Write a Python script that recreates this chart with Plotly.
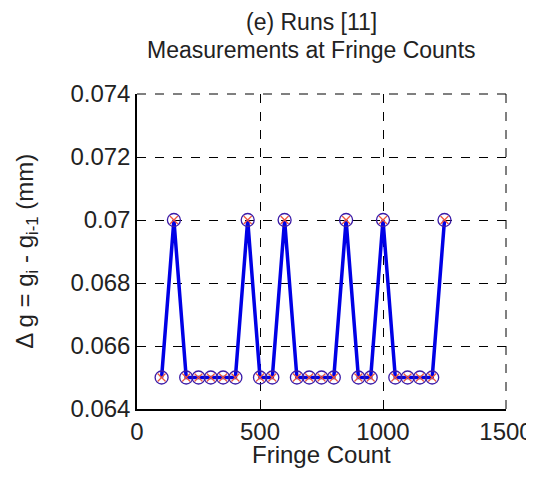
import plotly.graph_objects as go

fringe_count = [100, 150, 200, 250, 300, 350, 400, 450, 500, 550, 600,
                650, 700, 750, 800, 850, 900, 950, 1000, 1050, 1100, 1150, 1200, 1250]
delta_g = [0.065, 0.070, 0.065, 0.065, 0.065, 0.065, 0.065, 0.070, 0.065, 0.065, 0.070,
           0.065, 0.065, 0.065, 0.065, 0.070, 0.065, 0.065, 0.070, 0.065, 0.065, 0.065, 0.065, 0.070]

x_ticks = [0, 500, 1000, 1500]
y_ticks = [0.064, 0.066, 0.068, 0.070, 0.072, 0.074]
y_tick_text = ["0.064", "0.066", "0.068", "0.07", "0.072", "0.074"]

FONT = "Liberation Sans, Arial, sans-serif"
FS = 24
TXT = "#222"

fig = go.Figure()
fig.add_trace(go.Scatter(
    x=fringe_count, y=delta_g, mode="lines",
    line=dict(color="#0000e6", width=3.5),
    showlegend=False, hoverinfo="skip"))
fig.add_trace(go.Scatter(
    x=fringe_count, y=delta_g, mode="markers",
    marker=dict(symbol="x-thin-open", size=8, line=dict(color="#e03060", width=1.2)),
    showlegend=False))
fig.add_trace(go.Scatter(
    x=fringe_count, y=delta_g, mode="markers",
    marker=dict(symbol="circle-open", size=13, color="#3a1aa8", line=dict(color="#3a1aa8", width=1.3)),
    showlegend=False))

axis_common = dict(
    showline=True, linecolor="black", linewidth=1.5,
    ticks="inside", ticklen=5, tickcolor="black",
    showgrid=True, gridcolor="black", griddash="dash", gridwidth=1,
    zeroline=False, mirror=False, automargin=False,
    tickfont=dict(family=FONT, size=FS, color=TXT),
)

fig.update_xaxes(range=[0, 1500], tickvals=x_ticks, **axis_common)
fig.update_yaxes(range=[0.064, 0.074], tickvals=y_ticks, ticktext=y_tick_text, **axis_common)

# dashed top and right border lines (grid continuation)
fig.add_shape(type="line", xref="paper", yref="paper", x0=0, x1=1, y0=1, y1=1,
              line=dict(color="black", width=1, dash="dash"))
fig.add_shape(type="line", xref="paper", yref="paper", x0=1, x1=1, y0=0, y1=1,
              line=dict(color="black", width=1, dash="dash"))

annotations = [
    dict(text="(e) Runs [11]", x=0.472, y=1.272, yanchor="top", size=23),
    dict(text="Measurements at Fringe Counts", x=0.472, y=1.185, yanchor="top", size=23),
    dict(text="Fringe Count", x=0.5, y=-0.146, yanchor="middle", size=FS),
    dict(text="Δ g = g<sub>i</sub> - g<sub>i-1</sub> (mm)", x=-0.30, y=0.5,
         textangle=-90, yanchor="middle", size=FS),
]
for a in annotations:
    size = a.pop("size")
    a.update(xref="paper", yref="paper", xanchor="center", showarrow=False, borderpad=0,
             font=dict(family=FONT, size=size, color=TXT))

# page body adds an 8px offset; figure sized to fit the 534x480 window
fig.update_layout(
    width=526, height=472,
    margin=dict(l=129, r=28, t=86, b=71),
    paper_bgcolor="white", plot_bgcolor="white",
    annotations=annotations,
)

fig.write_html("out.html")
